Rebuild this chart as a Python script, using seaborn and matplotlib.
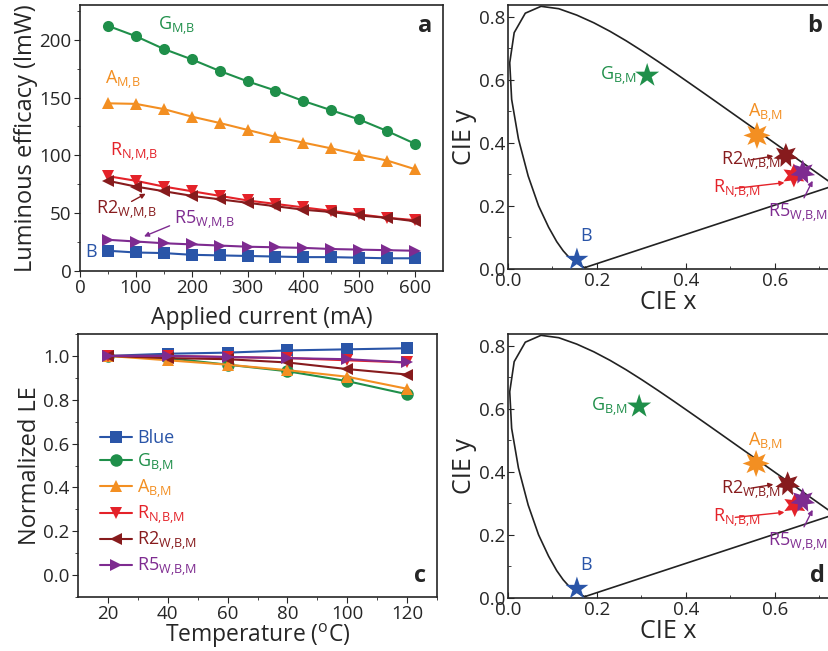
import numpy as np
import pandas as pd
import matplotlib
matplotlib.use("Agg")
import matplotlib.pyplot as plt
import seaborn as sns

sns.set_style("ticks")
plt.rcParams['font.family'] = ['Open Sans', 'DejaVu Sans']
plt.rcParams['mathtext.fontset'] = 'custom'
plt.rcParams['mathtext.rm'] = 'Open Sans'
plt.rcParams['mathtext.it'] = 'Open Sans'

# ---- data ----
names = ['B', 'G', 'A', 'RN', 'R2', 'R5']
colors = {'B': '#2a55a8', 'G': '#1f8f4a', 'A': '#f38f22',
          'RN': '#e42229', 'R2': '#871b1d', 'R5': '#7e2b90'}

# panel a: luminous efficacy vs applied current
current = [50, 100, 150, 200, 250, 300, 350, 400, 450, 500, 550, 600]
le_G = [212, 203, 192, 183, 173, 164, 156, 147, 139, 131, 121, 110]
le_A = [145, 144.5, 140, 133.5, 128, 122, 116, 111, 106, 100.5, 95.5, 88]
le_RN = [82, 78, 73, 69, 65, 61, 58, 55, 52, 49, 46, 44]
le_R2 = [78, 73, 69, 65, 62, 59, 56, 53, 51, 48, 46, 43]
le_R5 = [27, 25.5, 24, 23, 22, 21, 20.5, 20, 19, 18.5, 18, 17.5]
le_B = [17.5, 16, 15.5, 14, 13.5, 13, 12.5, 12, 12, 11.5, 11, 11]

# panel c: normalized LE vs temperature
temperature = [20, 40, 60, 80, 100, 120]
nle_B = [1.0, 1.01, 1.015, 1.025, 1.03, 1.035]
nle_G = [1.0, 0.99, 0.96, 0.93, 0.885, 0.825]
nle_A = [1.0, 0.98, 0.96, 0.935, 0.905, 0.85]
nle_RN = [1.0, 1.0, 0.995, 0.99, 0.98, 0.97]
nle_R2 = [1.0, 0.99, 0.985, 0.97, 0.94, 0.915]
nle_R5 = [1.0, 1.0, 0.995, 0.99, 0.985, 0.97]

# CIE 1931 spectral locus
cie_x = [0.1741, 0.1733, 0.1714, 0.1689, 0.1644, 0.1566, 0.1440, 0.1355, 0.1241,
         0.1096, 0.0913, 0.0687, 0.0454, 0.0235, 0.0082, 0.0039, 0.0139, 0.0389,
         0.0743, 0.1142, 0.1547, 0.1929, 0.2296, 0.2658, 0.3016, 0.3373, 0.3731,
         0.4087, 0.4441, 0.4788, 0.5125, 0.5448, 0.5752, 0.6029, 0.6270, 0.6658,
         0.6915, 0.7079, 0.7190, 0.7260, 0.7334, 0.7347]
cie_y = [0.0050, 0.0048, 0.0051, 0.0069, 0.0109, 0.0177, 0.0297, 0.0399, 0.0578,
         0.0868, 0.1327, 0.2007, 0.2950, 0.4127, 0.5384, 0.6548, 0.7502, 0.8120,
         0.8338, 0.8262, 0.8059, 0.7816, 0.7543, 0.7243, 0.6923, 0.6589, 0.6245,
         0.5896, 0.5547, 0.5202, 0.4866, 0.4544, 0.4242, 0.3965, 0.3725, 0.3340,
         0.3083, 0.2920, 0.2809, 0.2740, 0.2666, 0.2653]

# chromaticity points (panel b and panel d)
pt_names = ['B', 'G', 'A', 'R2', 'RN', 'R5']
b_x = [0.155, 0.313, 0.560, 0.625, 0.643, 0.663]
b_y = [0.030, 0.614, 0.424, 0.360, 0.297, 0.307]
d_x = [0.155, 0.295, 0.558, 0.629, 0.645, 0.663]
d_y = [0.030, 0.608, 0.427, 0.362, 0.295, 0.310]

line_markers = {'B': 's', 'G': 'o', 'A': '^', 'RN': 'v', 'R2': '<', 'R5': '>'}
star_markers = {'B': '*', 'G': '*', 'A': (8, 1, 0), 'R2': (7, 1, 0),
                'RN': (6, 1, 0), 'R5': (7, 1, 0)}
star_sizes = {'B': 300, 'G': 330, 'A': 380, 'R2': 330, 'RN': 300, 'R5': 330}

legend_labels = {'B': 'Blue', 'G': r'G$_{\mathregular{B{,}M}}$', 'A': r'A$_{\mathregular{B{,}M}}$',
                 'RN': r'R$_{\mathregular{N{,}B{,}M}}$', 'R2': r'R2$_{\mathregular{W{,}B{,}M}}$',
                 'R5': r'R5$_{\mathregular{W{,}B{,}M}}$'}

df_a = pd.DataFrame({
    'current': current * 6,
    'le': le_B + le_G + le_A + le_RN + le_R2 + le_R5,
    'name': [n for n in names for _ in current],
})
df_c = pd.DataFrame({
    'temp': temperature * 6,
    'nle': nle_B + nle_G + nle_A + nle_RN + nle_R2 + nle_R5,
    'name': [n for n in names for _ in temperature],
})

W, H = 829, 651
fig = plt.figure(figsize=(W / 100, H / 100), dpi=100)


def px_axes(left, right, top, bottom):
    return fig.add_axes([left / W, (H - bottom) / H, (right - left) / W, (bottom - top) / H])


ax_a = px_axes(80, 443, 5, 271)
ax_b = px_axes(508, 829, 5, 269)
ax_c = px_axes(78, 437, 334, 597)
ax_d = px_axes(508, 829, 334, 598)

# ---- panel a ----
sns.lineplot(data=df_a, x='current', y='le', hue='name', style='name',
             palette=colors, markers=line_markers, dashes=False, markersize=8,
             markeredgewidth=0, linewidth=1.5, legend=False, ax=ax_a)
ax_a.set_xlim(0, 650)
ax_a.set_ylim(0, 230)
ax_a.set_xticks([0, 100, 200, 300, 400, 500, 600])
ax_a.set_xticks(np.arange(50, 650, 100), minor=True)
ax_a.set_yticks([0, 50, 100, 150, 200])
ax_a.set_yticks([25, 75, 125, 175, 225], minor=True)
ax_a.set_xlabel('Applied current (mA)', fontsize=16.5, labelpad=6)
ax_a.set_ylabel('Luminous efficacy (lmW)', fontsize=17, labelpad=1)

fs = 13
ax_a.text(140, 212, r'G$_{\mathregular{M{,}B}}$', color=colors['G'], fontsize=fs, va='center')
ax_a.text(45, 165, r'A$_{\mathregular{M{,}B}}$', color=colors['A'], fontsize=fs, va='center')
ax_a.text(54, 103, r'R$_{\mathregular{N{,}M{,}B}}$', color=colors['RN'], fontsize=fs, va='center')
ax_a.text(28, 53, r'R2$_{\mathregular{W{,}M{,}B}}$', color=colors['R2'], fontsize=fs, va='center')
ax_a.annotate('', xy=(122, 68), xytext=(88, 59),
              arrowprops=dict(arrowstyle='-|>', color=colors['R2'], lw=1, mutation_scale=7))
ax_a.text(168, 44, r'R5$_{\mathregular{W{,}M{,}B}}$', color=colors['R5'], fontsize=fs, va='center')
ax_a.annotate('', xy=(110, 29), xytext=(165, 40),
              arrowprops=dict(arrowstyle='-|>', color=colors['R5'], lw=1, mutation_scale=7))
ax_a.text(9, 16, 'B', color=colors['B'], fontsize=fs, va='center')
ax_a.text(0.97, 0.92, 'a', transform=ax_a.transAxes, fontsize=17, fontweight='bold',
          ha='right', va='center')

# ---- panel c ----
sns.lineplot(data=df_c, x='temp', y='nle', hue='name', style='name',
             palette=colors, markers=line_markers, dashes=False, markersize=9,
             markeredgewidth=0, linewidth=1.5, ax=ax_c)
ax_c.set_xlim(10, 130)
ax_c.set_ylim(-0.1, 1.1)
ax_c.set_xticks([20, 40, 60, 80, 100, 120])
ax_c.set_xticks([30, 50, 70, 90, 110, 130], minor=True)
ax_c.set_yticks([0.0, 0.2, 0.4, 0.6, 0.8, 1.0])
ax_c.set_yticks(np.arange(-0.1, 1.11, 0.2), minor=True)
ax_c.set_xlabel(r'Temperature ($^{\mathregular{o}}$C)', fontsize=16.5, labelpad=-1)
ax_c.set_ylabel('Normalized LE', fontsize=17, labelpad=1)
handles, labs = ax_c.get_legend_handles_labels()
leg = ax_c.legend(handles, [legend_labels[l] for l in labs], loc='upper left',
                  bbox_to_anchor=(0.04, 0.665), frameon=False, fontsize=13,
                  handlelength=1.8, handletextpad=0.3, labelspacing=0.2,
                  borderaxespad=0)
for txt, n in zip(leg.get_texts(), labs):
    txt.set_color(colors[n])
ax_c.text(0.97, 0.08, 'c', transform=ax_c.transAxes, fontsize=17, fontweight='bold',
          ha='right', va='center')

# ---- panels b and d ----
locus = pd.DataFrame({'x': cie_x + [cie_x[0]], 'y': cie_y + [cie_y[0]]})
for ax, px, py, gx in [(ax_b, b_x, b_y, 0.29), (ax_d, d_x, d_y, 0.27)]:
    sns.lineplot(data=locus, x='x', y='y', sort=False, estimator=None, color='#222222',
                 linewidth=1.2, ax=ax)
    for n, xx, yy in zip(pt_names, px, py):
        sns.scatterplot(x=[xx], y=[yy], marker=star_markers[n], s=star_sizes[n],
                        color=colors[n], edgecolor='none', ax=ax, zorder=3)
    ax.set_xlim(0, 0.722)
    ax.set_ylim(0, 0.838)
    ax.set_xticks([0.0, 0.2, 0.4, 0.6])
    ax.set_xticks([0.1, 0.3, 0.5, 0.7], minor=True)
    ax.set_yticks([0.0, 0.2, 0.4, 0.6, 0.8])
    ax.set_yticks([0.1, 0.3, 0.5, 0.7], minor=True)
    ax.tick_params(which='both', direction='in')
    ax.set_xlabel('CIE x', fontsize=18, labelpad=0)
    ax.set_ylabel('CIE y', fontsize=18, labelpad=1)
    ax.text(gx, py[1], r'G$_{\mathregular{B{,}M}}$', color=colors['G'], fontsize=fs,
            ha='right', va='center')
    ax.text(0.54, 0.495, r'A$_{\mathregular{B{,}M}}$', color=colors['A'], fontsize=fs, va='center')
    ax.text(0.48, 0.345, r'R2$_{\mathregular{W{,}B{,}M}}$', color=colors['R2'], fontsize=fs, va='center')
    ax.annotate('', xy=(0.603, py[3]), xytext=(0.54, py[3] - 0.015),
                arrowprops=dict(arrowstyle='-|>', color=colors['R2'], lw=1, mutation_scale=7))
    ax.text(0.46, 0.255, r'R$_{\mathregular{N{,}B{,}M}}$', color=colors['RN'], fontsize=fs, va='center')
    ax.annotate('', xy=(0.628, py[4] - 0.022), xytext=(0.505, 0.255),
                arrowprops=dict(arrowstyle='-|>', color=colors['RN'], lw=1, mutation_scale=7))
    ax.text(0.585, 0.18, r'R5$_{\mathregular{W{,}B{,}M}}$', color=colors['R5'], fontsize=fs, va='center')
    ax.annotate('', xy=(0.688, 0.288), xytext=(0.663, 0.218),
                arrowprops=dict(arrowstyle='-|>', color=colors['R5'], lw=1, mutation_scale=7))
    ax.text(0.163, 0.105, 'B', color=colors['B'], fontsize=fs, va='center')
    ax.spines['right'].set_visible(False)

ax_b.text(0.69, 0.77, 'b', fontsize=17, fontweight='bold', ha='center', va='center')
ax_d.text(0.695, 0.07, 'd', fontsize=17, fontweight='bold', ha='center', va='center')

for ax in (ax_a, ax_c):
    ax.tick_params(which='both', direction='out')
for ax in (ax_a, ax_b, ax_c, ax_d):
    ax.tick_params(which='major', length=4, labelsize=13.5, pad=2)
    ax.tick_params(which='minor', length=2.5)
    for sp in ax.spines.values():
        sp.set_linewidth(1.2)
    ax.tick_params(top=False, right=False, which='both')

fig.savefig('out.png', dpi=100)
